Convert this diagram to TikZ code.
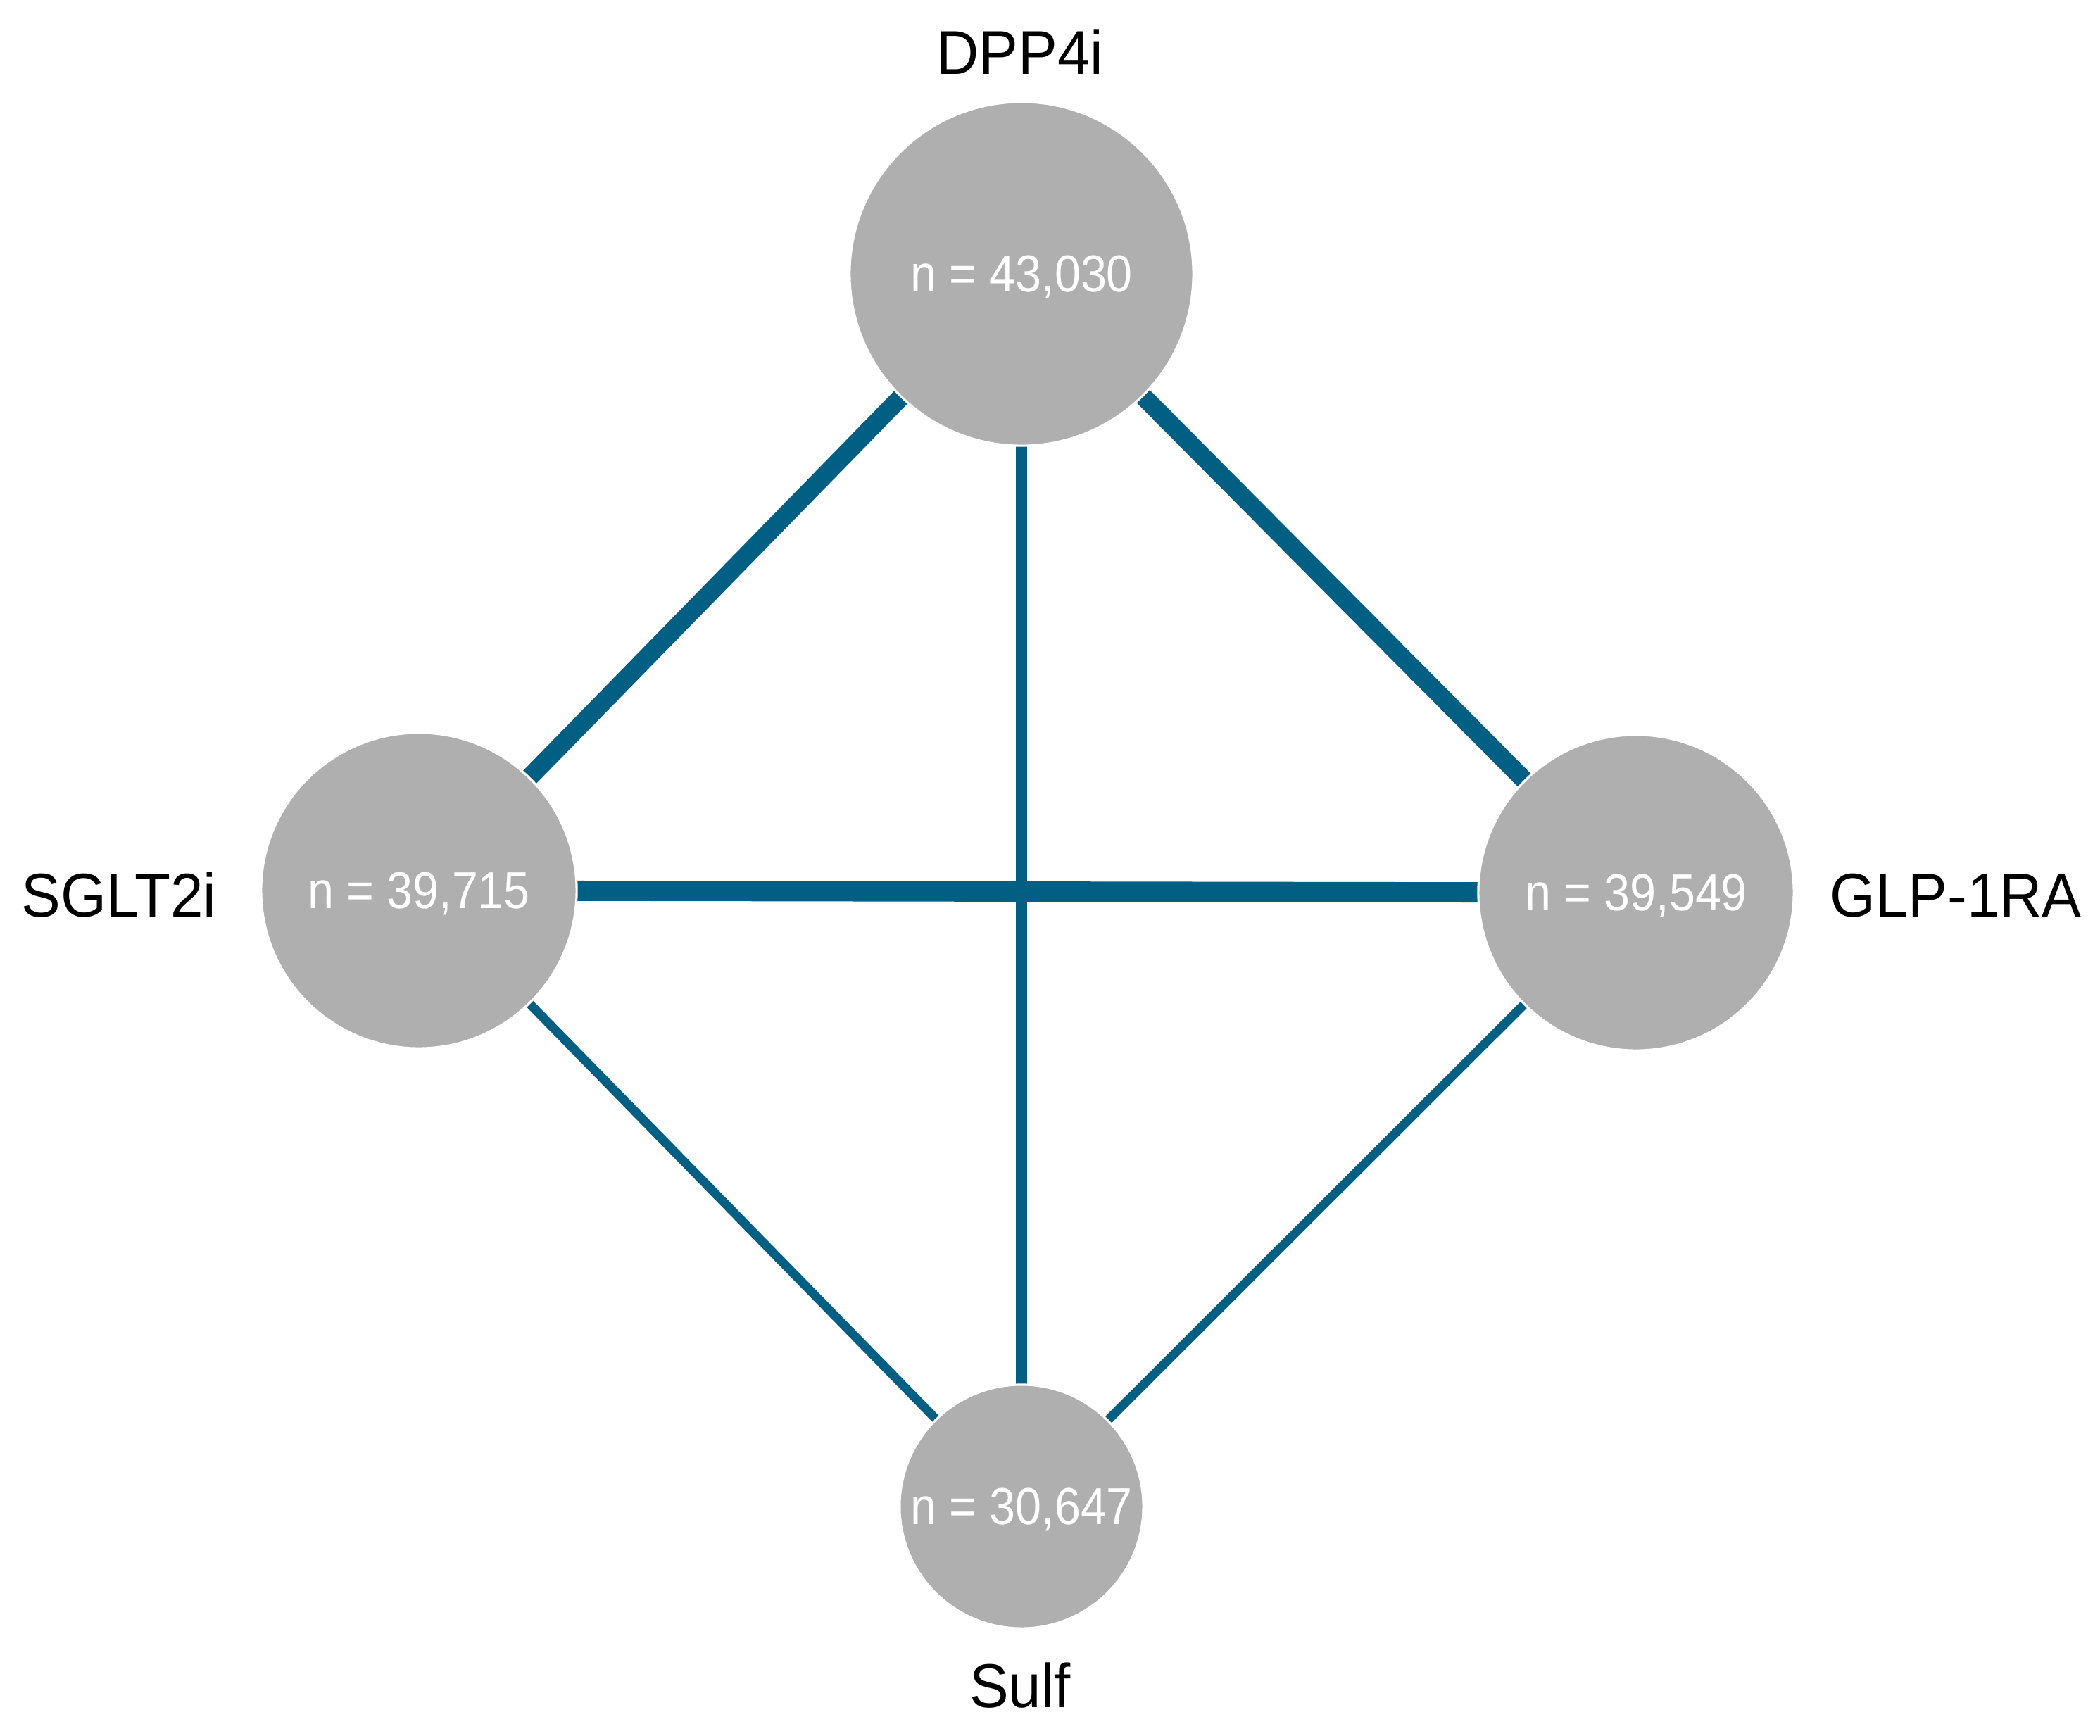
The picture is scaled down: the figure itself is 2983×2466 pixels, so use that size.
\documentclass[tikz,border=0pt]{standalone}
\usepackage{fontspec}
\setmainfont{Liberation Sans}
\newfontfamily\numfont[FakeStretch=0.9]{Liberation Sans}
\newfontfamily\labfont[FakeStretch=0.95]{Liberation Sans}
\definecolor{edgeblue}{RGB}{0,95,130}
\definecolor{nodegray}{RGB}{175,175,175}
\begin{document}
\begin{tikzpicture}[x=0.01cm,y=-0.01cm,
  drug/.style={circle,fill=nodegray,draw=white,line width=0.9pt,inner sep=0pt,
    text=white,font=\numfont\fontsize{21}{24}\selectfont,text depth=0pt},
  druglabel/.style={anchor=base,inner sep=0pt,font=\labfont\fontsize{25}{29}\selectfont,text=black},
  edge/.style={draw=edgeblue,line cap=butt}]
\useasboundingbox (0,0) rectangle (2983,2466);
% edges first (behind nodes)
\coordinate (cD) at (1451,389);
\coordinate (cS) at (595,1265);
\coordinate (cG) at (2324,1268);
\coordinate (cU) at (1451,2140);
\draw[edge,line width=7.4pt] (cD) -- (cS);
\draw[edge,line width=7.4pt] (cD) -- (cG);
\draw[edge,line width=8.2pt] (cS) -- (cG);
\draw[edge,line width=4.3pt] (cD) -- (cU);
\draw[edge,line width=3.6pt] (cS) -- (cU);
\draw[edge,line width=3.6pt] (cG) -- (cU);
% nodes
\node[drug,minimum size=4.88cm] (dpp) at (cD) {n = 43,030};
\node[drug,minimum size=4.48cm] (sglt) at (cS) {n = 39,715};
\node[drug,minimum size=4.48cm] (glp) at (cG) {n = 39,549};
\node[drug,minimum size=3.46cm] (sulf) at (cU) {n = 30,647};
% labels
\node[druglabel] (ldpp) at (1449,105) {DPP4i};
\node[druglabel] (lsglt) at (169,1302) {SGLT2i};
\node[druglabel] (lglp) at (2778,1302) {GLP-1RA};
\node[druglabel] (lsulf) at (1449,2425) {Sulf};
\end{tikzpicture}
\end{document}
